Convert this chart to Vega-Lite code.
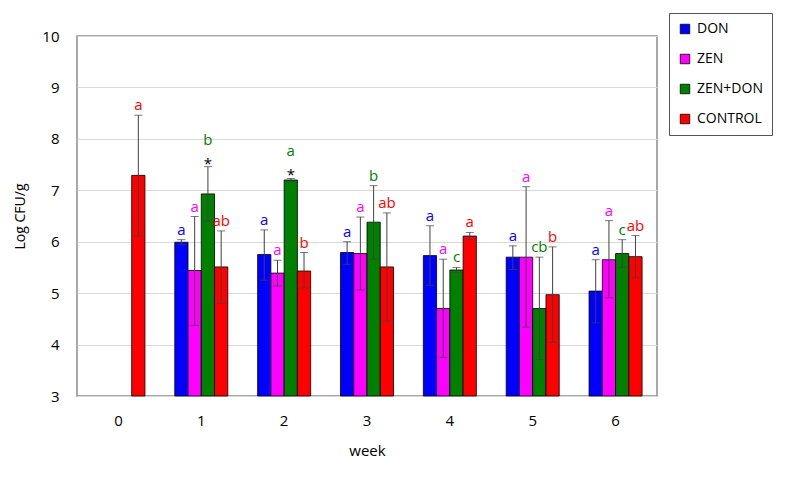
{
  "$schema": "https://vega.github.io/schema/vega-lite/v6.json",
  "width": 580,
  "height": 360,
  "autosize": {"type": "none"},
  "padding": {"left": 77, "top": 36, "right": 130, "bottom": 100},
  "background": "white",
  "config": {"font": "Open Sans", "view": {"stroke": "#8c8c8c", "strokeWidth": 1.5}},
  "data": {"values": [
    {"week": 0, "series": "CONTROL", "mean": 7.29, "lo": 6.11, "hi": 8.46, "letter": "a", "star": ""},
    {"week": 1, "series": "DON", "mean": 5.99, "lo": 5.94, "hi": 6.04, "letter": "a", "star": ""},
    {"week": 1, "series": "ZEN", "mean": 5.44, "lo": 4.37, "hi": 6.49, "letter": "a", "star": ""},
    {"week": 1, "series": "ZEN+DON", "mean": 6.93, "lo": 6.40, "hi": 7.46, "letter": "b", "star": "*"},
    {"week": 1, "series": "CONTROL", "mean": 5.51, "lo": 4.80, "hi": 6.21, "letter": "ab", "star": ""},
    {"week": 2, "series": "DON", "mean": 5.75, "lo": 5.25, "hi": 6.23, "letter": "a", "star": ""},
    {"week": 2, "series": "ZEN", "mean": 5.39, "lo": 5.14, "hi": 5.64, "letter": "a", "star": ""},
    {"week": 2, "series": "ZEN+DON", "mean": 7.20, "lo": 7.17, "hi": 7.23, "letter": "a", "star": "*"},
    {"week": 2, "series": "CONTROL", "mean": 5.43, "lo": 5.10, "hi": 5.79, "letter": "b", "star": ""},
    {"week": 3, "series": "DON", "mean": 5.79, "lo": 5.56, "hi": 6.00, "letter": "a", "star": ""},
    {"week": 3, "series": "ZEN", "mean": 5.77, "lo": 5.06, "hi": 6.48, "letter": "a", "star": ""},
    {"week": 3, "series": "ZEN+DON", "mean": 6.38, "lo": 5.66, "hi": 7.09, "letter": "b", "star": ""},
    {"week": 3, "series": "CONTROL", "mean": 5.51, "lo": 4.46, "hi": 6.56, "letter": "ab", "star": ""},
    {"week": 4, "series": "DON", "mean": 5.73, "lo": 5.15, "hi": 6.31, "letter": "a", "star": ""},
    {"week": 4, "series": "ZEN", "mean": 4.70, "lo": 3.75, "hi": 5.66, "letter": "a", "star": ""},
    {"week": 4, "series": "ZEN+DON", "mean": 5.45, "lo": 5.40, "hi": 5.50, "letter": "c", "star": ""},
    {"week": 4, "series": "CONTROL", "mean": 6.11, "lo": 6.04, "hi": 6.18, "letter": "a", "star": ""},
    {"week": 5, "series": "DON", "mean": 5.70, "lo": 5.46, "hi": 5.92, "letter": "a", "star": ""},
    {"week": 5, "series": "ZEN", "mean": 5.70, "lo": 4.34, "hi": 7.07, "letter": "a", "star": ""},
    {"week": 5, "series": "ZEN+DON", "mean": 4.70, "lo": 3.71, "hi": 5.70, "letter": "cb", "star": ""},
    {"week": 5, "series": "CONTROL", "mean": 4.97, "lo": 4.04, "hi": 5.90, "letter": "b", "star": ""},
    {"week": 6, "series": "DON", "mean": 5.04, "lo": 4.42, "hi": 5.65, "letter": "a", "star": ""},
    {"week": 6, "series": "ZEN", "mean": 5.65, "lo": 4.91, "hi": 6.41, "letter": "a", "star": ""},
    {"week": 6, "series": "ZEN+DON", "mean": 5.77, "lo": 5.50, "hi": 6.04, "letter": "c", "star": ""},
    {"week": 6, "series": "CONTROL", "mean": 5.71, "lo": 5.30, "hi": 6.12, "letter": "ab", "star": ""}
  ]},
  "encoding": {
    "x": {
      "field": "week", "type": "ordinal", "title": "week",
      "scale": {"paddingInner": 0.36, "paddingOuter": 0.18},
      "axis": {"labelAngle": 0, "ticks": false, "domain": false, "labelFontSize": 15, "labelPadding": 17, "labelColor": "#000", "titleFontSize": 15, "titleFontWeight": "normal", "titleColor": "#000", "titlePadding": 15}
    },
    "xOffset": {"field": "series", "type": "nominal", "scale": {"domain": ["DON", "ZEN", "ZEN+DON", "CONTROL"]}}
  },
  "layer": [
    {
      "mark": {"type": "bar", "stroke": "#000", "strokeWidth": 0.8},
      "encoding": {
        "y": {"field": "mean", "type": "quantitative", "title": "Log CFU/g",
          "scale": {"domain": [3, 10], "zero": false, "nice": false},
          "axis": {"values": [3, 4, 5, 6, 7, 8, 9, 10], "grid": true, "gridColor": "#d9d9d9", "ticks": false, "domain": false, "labelFontSize": 15, "labelPadding": 18, "labelColor": "#000", "titleFontSize": 14, "titleFontWeight": "normal", "titleColor": "#000", "titlePadding": 14}},
        "y2": {"datum": 3},
        "color": {"field": "series", "type": "nominal",
          "scale": {"domain": ["DON", "ZEN", "ZEN+DON", "CONTROL"], "range": ["#0000ff", "#ff00ff", "#008000", "#ff0000"]},
          "legend": {"orient": "none", "legendX": 592, "legendY": -23, "title": null, "strokeColor": "#555", "fillColor": "white", "padding": 9, "symbolType": "square", "symbolSize": 90, "symbolStrokeColor": "#000", "symbolStrokeWidth": 0.8, "labelFontSize": 14, "labelColor": "#000", "labelOffset": 5, "rowPadding": 16}}
      }
    },
    {
      "mark": {"type": "rule", "color": "#404040", "strokeWidth": 1},
      "encoding": {"y": {"field": "lo", "type": "quantitative"}, "y2": {"field": "hi"}}
    },
    {
      "mark": {"type": "tick", "color": "#404040", "size": 8, "thickness": 1},
      "encoding": {"y": {"field": "hi", "type": "quantitative"}}
    },
    {
      "mark": {"type": "tick", "color": "#404040", "size": 8, "thickness": 1},
      "encoding": {"y": {"field": "lo", "type": "quantitative"}}
    },
    {
      "transform": [{"filter": "datum.star == ''"}],
      "mark": {"type": "text", "fontSize": 15, "baseline": "alphabetic", "dy": -5},
      "encoding": {"y": {"field": "hi", "type": "quantitative"}, "text": {"field": "letter"}, "color": {"field": "series", "type": "nominal", "legend": null}}
    },
    {
      "transform": [{"filter": "datum.star != ''"}],
      "mark": {"type": "text", "fontSize": 15, "baseline": "alphabetic", "dy": -22},
      "encoding": {"y": {"field": "hi", "type": "quantitative"}, "text": {"field": "letter"}, "color": {"field": "series", "type": "nominal", "legend": null}}
    },
    {
      "transform": [{"filter": "datum.star != ''"}],
      "mark": {"type": "text", "fontSize": 15, "baseline": "alphabetic", "dy": 2, "color": "#000"},
      "encoding": {"y": {"field": "hi", "type": "quantitative"}, "text": {"field": "star"}}
    }
  ]
}
